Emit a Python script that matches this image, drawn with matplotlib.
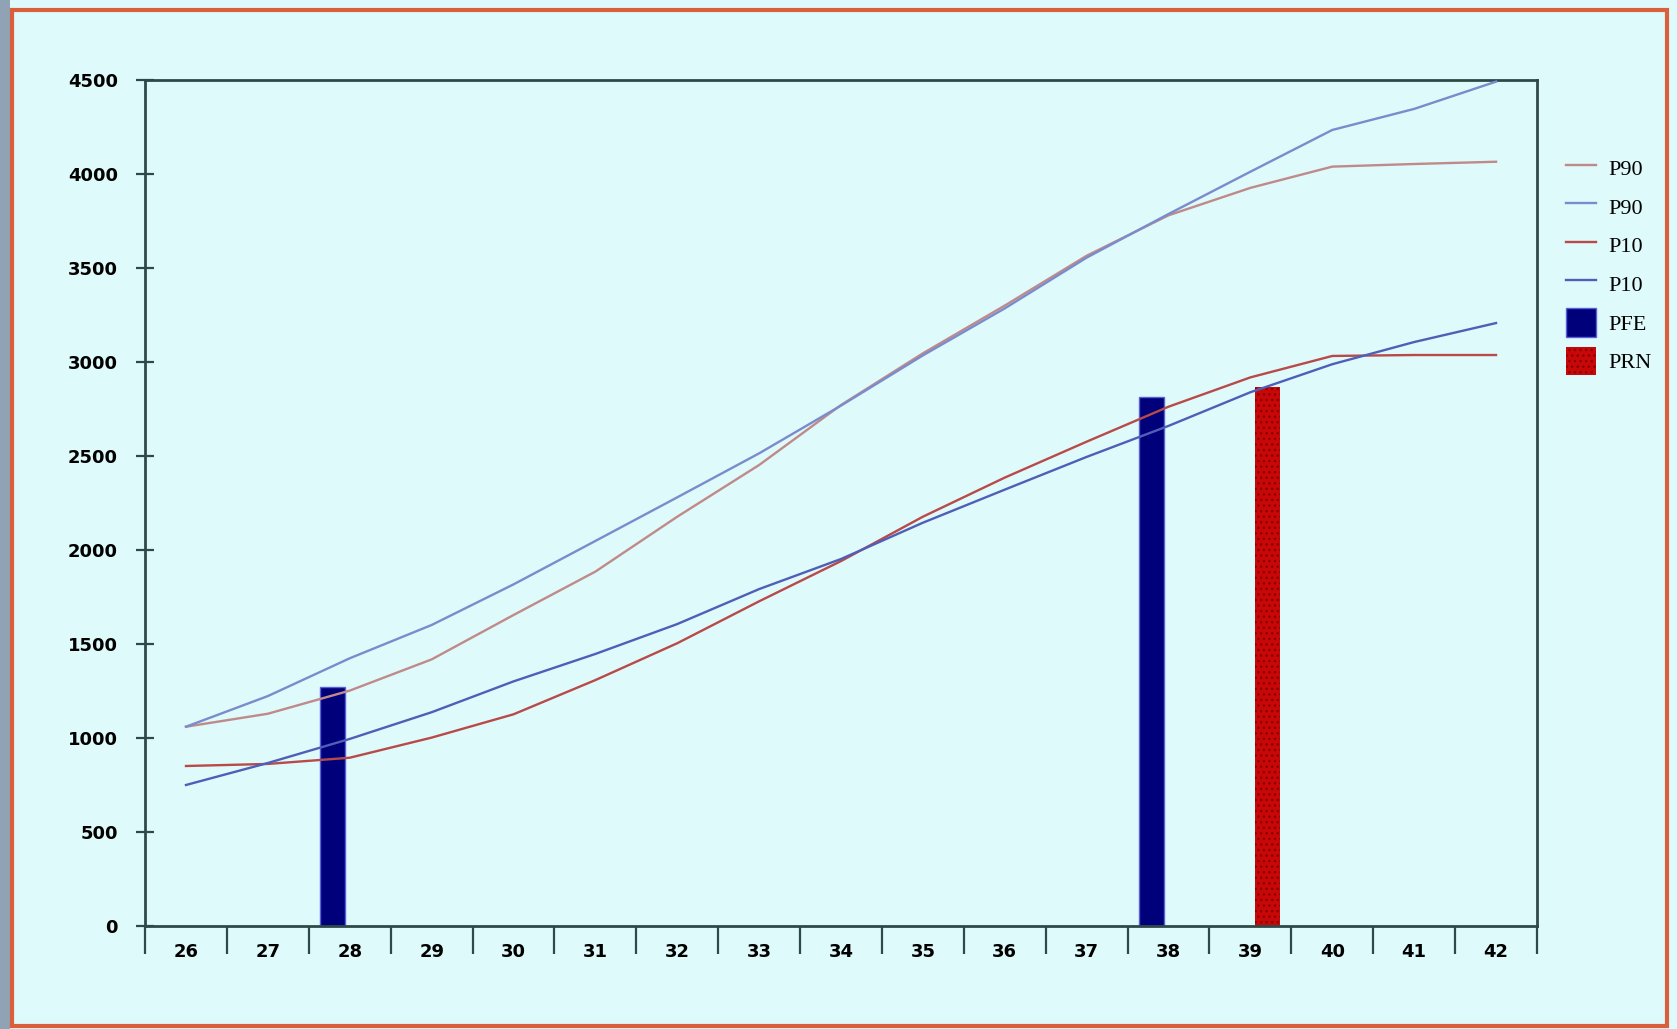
import matplotlib.pyplot as plt
from matplotlib.patches import Rectangle
import numpy as np

# gestational weeks and percentile curves (grams)
weeks = list(range(26, 43))
p90_red = [1060, 1129, 1252, 1418, 1654, 1885, 2177, 2452, 2771, 3046, 3300, 3565, 3780, 3926, 4039, 4053, 4065]
p90_blue = [1060, 1223, 1424, 1601, 1817, 2048, 2280, 2514, 2768, 3035, 3285, 3555, 3787, 4012, 4234, 4346, 4491]
p10_red = [851, 862, 895, 1002, 1126, 1308, 1504, 1727, 1941, 2177, 2385, 2576, 2762, 2918, 3032, 3037, 3037]
p10_blue = [750, 867, 995, 1137, 1301, 1447, 1606, 1792, 1952, 2145, 2321, 2495, 2660, 2839, 2988, 3106, 3207]

# estimated fetal weight and newborn weight
pfe_weeks = [28, 38]
pfe_vals = [1270, 2815]
prn_weeks = [39]
prn_vals = [2865]

yticks = list(range(0, 4501, 500))

bg = "#dffafa"
dark = "#2f4848"

fig = plt.figure(figsize=(16.77, 10.29), dpi=100, facecolor=bg)

# outer frame
fig.patches.append(Rectangle((0, 0), 10 / 1677, 1, transform=fig.transFigure,
                             facecolor="#8fa3b5", edgecolor="none", zorder=0))
fig.patches.append(Rectangle((12 / 1677, 3 / 1029), 1655 / 1677, 1016 / 1029,
                             transform=fig.transFigure, facecolor="none",
                             edgecolor="#d9603a", linewidth=3, zorder=1))

ax = fig.add_axes([0.0865, 0.1001, 0.83, 0.8222])
ax.set_facecolor(bg)

idx = np.arange(len(weeks))
pos = {w: i for i, w in enumerate(weeks)}

ax.bar([pos[w] - 0.21 for w in pfe_weeks], pfe_vals, width=0.3,
       color="#00007a", edgecolor="#5860d8", linewidth=1, zorder=2, label="PFE")
ax.bar([pos[w] + 0.21 for w in prn_weeks], prn_vals, width=0.3,
       color="#c80808", edgecolor="#8a0000", linewidth=0, hatch="...",
       zorder=2, label="PRN")

l1, = ax.plot(idx, p90_red, color="#c08a8a", lw=1.7, zorder=3, label="P90")
l2, = ax.plot(idx, p90_blue, color="#7a8ccc", lw=1.7, zorder=3, label="P90")
l3, = ax.plot(idx, p10_red, color="#b84a4a", lw=1.7, zorder=3, label="P10")
l4, = ax.plot(idx, p10_blue, color="#4f5fb8", lw=1.7, zorder=3, label="P10")

ax.set_xlim(-0.5, len(weeks) - 0.5)
ax.set_ylim(0, 4500)

ax.set_yticks(yticks)
ax.set_yticklabels([str(v) for v in yticks], fontsize=13, fontweight="bold")
ax.tick_params(axis="y", direction="inout", length=13, width=1.6, color=dark, pad=13)

ax.set_xticks(np.arange(-0.5, len(weeks), 1))
ax.set_xticklabels([])
ax.tick_params(axis="x", which="major", direction="out", length=20, width=1.6, color=dark)
ax.set_xticks(idx, minor=True)
ax.set_xticklabels([str(w) for w in weeks], minor=True, fontsize=13, fontweight="bold")
ax.tick_params(axis="x", which="minor", length=0, pad=12)

for s in ax.spines.values():
    s.set_color(dark)
    s.set_linewidth(2)

bars = ax.containers
handles = [l1, l2, l3, l4, bars[0], bars[1]]
labels = ["P90", "P90", "P10", "P10", "PFE", "PRN"]
fig.legend(handles, labels, loc="upper left", bbox_to_anchor=(0.922, 0.87),
           frameon=False, prop={"family": "Liberation Serif", "size": 16},
           handlelength=1.35, handleheight=1.6, labelspacing=0.45, handletextpad=0.55)

fig.savefig("out.png", dpi=100, facecolor=bg)
